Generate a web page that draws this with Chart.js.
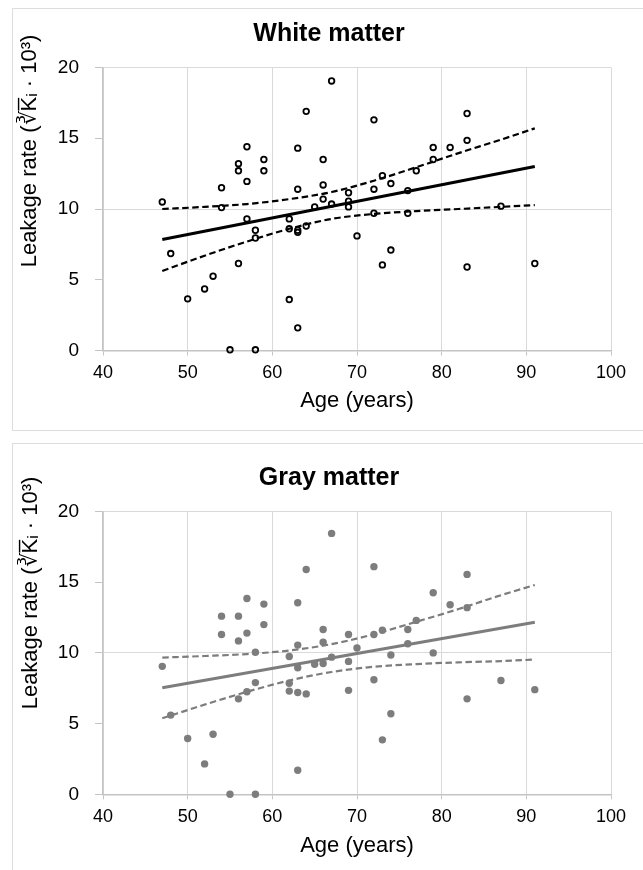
<!DOCTYPE html>
<html lang="en">
<head>
    <meta charset="UTF-8">
    <title>Leakage rate vs age - White and gray matter</title>
    <script src="https://cdn.jsdelivr.net/npm/chart.js@4.4.1/dist/chart.umd.min.js"></script>
    <style>
        body {
            margin: 0;
            background: #ffffff;
            width: 643px;
            height: 870px;
            overflow: hidden;
            position: relative;
            font-family: "Liberation Sans", Arial, sans-serif;
        }

        .panel {
            position: absolute;
            left: 12px;
            width: 630px;
            border: 1px solid #dddddd;
            background: #ffffff;
        }

        #panelWhite { top: 8px; height: 421px; }
        #panelGray { top: 443px; height: 440px; }

        canvas { display: block; }
    </style>
</head>
<body>

    <div class="panel" id="panelWhite">
        <canvas id="whiteChart" width="630" height="421"></canvas>
    </div>
    <div class="panel" id="panelGray">
        <canvas id="grayChart" width="630" height="426"></canvas>
    </div>

    <script>
        // Data
        const ages = [47, 48, 50, 52, 53, 54, 54, 55, 56, 56, 56, 57, 57, 57, 58, 58, 58, 59, 59,
            62, 62, 62, 63, 63, 63, 63, 63, 64, 64, 65, 66, 66, 66, 67, 67, 69, 69, 69, 70,
            72, 72, 72, 73, 73, 74, 74, 76, 76, 77, 79, 79, 81, 83, 83, 83, 87, 91];

        const whiteLeak = [10.5, 6.85, 3.65, 4.35, 5.25, 11.5, 10.1, 0.05, 13.2, 12.7, 6.15, 14.4, 11.95, 9.3, 8.5, 7.95, 0.05, 13.5, 12.7,
            9.3, 8.6, 3.6, 14.3, 11.4, 8.5, 8.35, 1.6, 16.9, 8.8, 10.15, 13.5, 11.7, 10.7, 19.05, 10.35, 11.15, 10.55, 10.15, 8.1,
            16.3, 11.4, 9.7, 12.35, 6.05, 11.8, 7.1, 11.3, 9.7, 12.7, 14.35, 13.5, 14.35, 16.75, 14.85, 5.9, 10.2, 6.15];

        const grayLeak = [9.05, 5.6, 3.95, 2.15, 4.25, 12.6, 11.3, 0.0, 12.6, 10.85, 6.75, 13.85, 11.4, 7.25, 10.05, 7.9, 0.0, 13.45, 12.0,
            9.75, 7.85, 7.3, 13.55, 10.55, 8.95, 7.2, 1.7, 15.9, 7.1, 9.2, 11.65, 10.75, 9.25, 18.45, 9.7, 11.3, 9.4, 7.35, 10.35,
            16.1, 11.3, 8.1, 11.6, 3.85, 9.85, 5.7, 11.65, 10.65, 12.3, 14.25, 10.0, 13.4, 15.55, 13.2, 6.75, 8.05, 7.4];

        // regression line ends and confidence band read at a few ages
        const fitAges = [47, 91];
        const whiteFit = [7.85, 13.0];
        const grayFit = [7.53, 12.17];

        const bandAges = [47, 52, 57, 62, 67, 72, 77, 82, 87, 91];
        const whiteUpper = [10.0, 10.15, 10.35, 10.7, 11.2, 12.0, 12.95, 13.95, 14.9, 15.7];
        const whiteLower = [5.62, 6.7, 7.7, 8.6, 9.3, 9.65, 9.85, 10.0, 10.15, 10.28];
        const grayUpper = [9.67, 9.78, 9.92, 10.17, 10.62, 11.32, 12.2, 13.1, 14.08, 14.8];
        const grayLower = [5.38, 6.34, 7.25, 8.05, 8.65, 9.02, 9.21, 9.33, 9.42, 9.53];

        const xTicks = [40, 50, 60, 70, 80, 90, 100];
        const yTicks = [0, 5, 10, 15, 20];

        const FONT = '"Liberation Sans", Arial, sans-serif';
        const yTitle = 'Leakage rate (\u221BK\u0305\u1D62 \u00B7 10\u00B3)';

        const toPoints = (xs, ys) => xs.map((x, i) => ({ x: x, y: ys[i] }));

        // rotated y title, placed like the original (not centred on the axis)
        const yTitlePlugin = {
            id: 'yTitle',
            afterDraw(chart, args, opts) {
                const ctx = chart.ctx;
                ctx.save();
                ctx.translate(opts.x, opts.y);
                ctx.rotate(-Math.PI / 2);
                ctx.font = '22px ' + FONT;
                ctx.fillStyle = '#000';
                ctx.textAlign = 'center';
                ctx.textBaseline = 'middle';
                ctx.fillText(opts.text, 0, 0);
                ctx.restore();
            }
        };

        function makeChart(id, cfg) {
            const ctx = document.getElementById(id).getContext('2d');
            return new Chart(ctx, {
                type: 'scatter',
                data: {
                    datasets: [
                        {
                            data: toPoints(ages, cfg.values),
                            pointRadius: cfg.pointRadius,
                            pointBorderWidth: cfg.pointBorder,
                            pointBorderColor: cfg.pointLine,
                            pointBackgroundColor: cfg.pointFill,
                            clip: false
                        },
                        {
                            type: 'line',
                            data: toPoints(fitAges, cfg.fit),
                            borderColor: cfg.color,
                            borderWidth: 3,
                            pointRadius: 0
                        },
                        {
                            type: 'line',
                            data: toPoints(bandAges, cfg.upper),
                            borderColor: cfg.color,
                            borderWidth: 2.2,
                            borderDash: [6.5, 3.5],
                            cubicInterpolationMode: 'monotone',
                            pointRadius: 0
                        },
                        {
                            type: 'line',
                            data: toPoints(bandAges, cfg.lower),
                            borderColor: cfg.color,
                            borderWidth: 2.2,
                            borderDash: [6.5, 3.5],
                            cubicInterpolationMode: 'monotone',
                            pointRadius: 0
                        }
                    ]
                },
                options: {
                    responsive: false,
                    animation: false,
                    devicePixelRatio: 1,
                    // left padding + narrower y axis keeps the plot in place but centres the title like the original
                    layout: { padding: { left: 34, right: 32, top: 0, bottom: 0 } },
                    plugins: {
                        legend: { display: false },
                        tooltip: { enabled: false },
                        title: {
                            display: true,
                            text: cfg.title,
                            color: '#000',
                            font: { family: FONT, size: 25, weight: 'bold' },
                            padding: cfg.titlePad
                        },
                        yTitle: { text: yTitle, x: cfg.yTitleX, y: cfg.yTitleY }
                    },
                    scales: {
                        x: {
                            type: 'linear',
                            min: 40,
                            max: 100,
                            afterBuildTicks: s => { s.ticks = xTicks.map(v => ({ value: v })); },
                            afterFit: s => { s.height = cfg.xHeight; },
                            grid: { color: '#d9d9d9', lineWidth: 1, tickLength: 5, tickColor: '#c4c4c4' },
                            border: { color: '#c4c4c4', width: 1.5 },
                            ticks: { color: '#000', font: { family: FONT, size: 18 }, padding: 7 },
                            title: {
                                display: true,
                                text: 'Age (years)',
                                color: '#000',
                                font: { family: FONT, size: 22 },
                                padding: { top: 0, bottom: cfg.xTitlePad }
                            }
                        },
                        y: {
                            min: 0,
                            max: 20,
                            afterBuildTicks: s => { s.ticks = yTicks.map(v => ({ value: v })); },
                            afterFit: s => { s.width = 56; },
                            grid: {
                                color: c => (c.tick && c.tick.value % 10 === 0) ? '#d9d9d9' : 'rgba(0,0,0,0)',
                                lineWidth: 1,
                                tickLength: 8,
                                tickColor: '#c4c4c4'
                            },
                            border: { color: '#c4c4c4', width: 1.5 },
                            ticks: { color: '#000', font: { family: FONT, size: 19 }, padding: 16 }
                        }
                    }
                },
                plugins: [yTitlePlugin]
            });
        }

        makeChart('whiteChart', {
            title: 'White matter',
            values: whiteLeak,
            fit: whiteFit,
            upper: whiteUpper,
            lower: whiteLower,
            color: '#000000',
            pointRadius: 2.8,
            pointBorder: 1.8,
            pointLine: '#000000',
            pointFill: 'rgba(255,255,255,0)',
            titlePad: { top: 10, bottom: 18.5 },
            xHeight: 79.5,
            xTitlePad: 15.8,
            yTitleX: 17,
            yTitleY: 142
        });

        makeChart('grayChart', {
            title: 'Gray matter',
            values: grayLeak,
            fit: grayFit,
            upper: grayUpper,
            lower: grayLower,
            color: '#7d7d7d',
            pointRadius: 3.7,
            pointBorder: 0,
            pointLine: '#7d7d7d',
            pointFill: '#7d7d7d',
            titlePad: { top: 19.3, bottom: 18.2 },
            xHeight: 75.7,
            xTitlePad: 10.8,
            yTitleX: 18,
            yTitleY: 149
        });
    </script>
</body>
</html>
